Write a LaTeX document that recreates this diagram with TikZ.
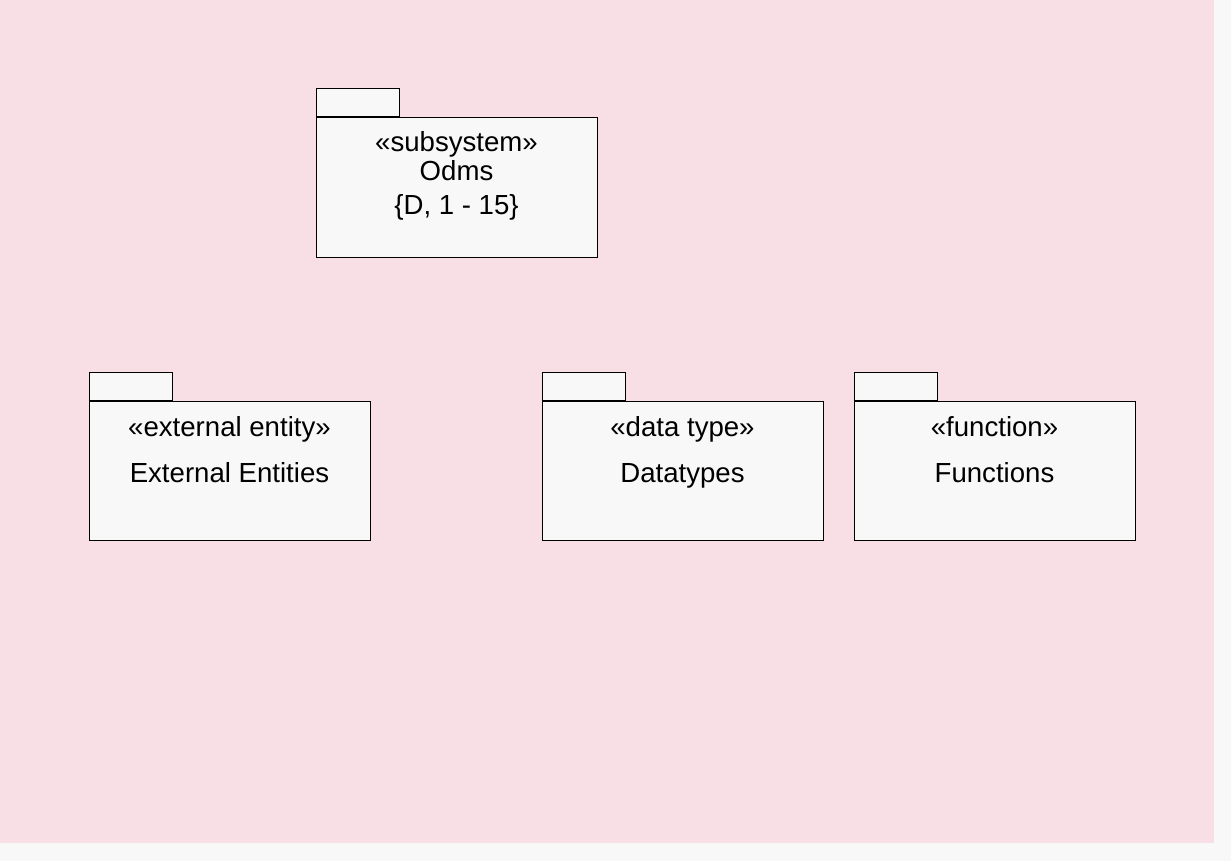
\documentclass[tikz,border=0pt]{standalone}
\usepackage{fontspec}
\setmainfont{Liberation Sans}
\usepackage{tikz}
\usetikzlibrary{positioning}
\definecolor{diagrambg}{HTML}{F7DFE5}
\definecolor{pagebg}{HTML}{F8F8F8}
\definecolor{pkgfill}{HTML}{F8F8F8}

\begin{document}
\begin{tikzpicture}[
            x=1pt, y=-1pt,
            font=\fontsize{27.6}{32}\selectfont,
            node distance=0pt,
            pkg/.style={rectangle, draw, fill=pkgfill, line width=1pt, minimum width=281pt, minimum height=139pt, inner sep=0pt},
            tab/.style={rectangle, draw, fill=pkgfill, line width=1pt, minimum width=83pt, minimum height=28pt, inner sep=0pt},
            pkgtext/.style={inner sep=0pt, text height=0.72em, text depth=0.2em}
        ]
        % canvas
        \fill[pagebg] (0,0) rectangle (1231,861);
        \fill[diagrambg] (0,0) rectangle (1214,843);

        % Odms subsystem
        \node[pkg, anchor=north west] (odms) at (315.5,117.5) {};
        \node[tab, anchor=south west] (odms_tab) at (odms.north west) {};
        \node[pkgtext] (odms_stereo) at ([yshift=-31pt]odms.north) {«subsystem»};
        \node[pkgtext] (odms_name) at ([yshift=-60pt]odms.north) {Odms};
        \node[pkgtext] (odms_tag) at ([yshift=-94pt]odms.north) {\{D, 1 - 15\}};

        % External entities
        \node[pkg, anchor=north west] (ext) at (88.5,400.5) {};
        \node[tab, anchor=south west] (ext_tab) at (ext.north west) {};
        \node[pkgtext] (ext_stereo) at ([yshift=-33pt]ext.north) {«external entity»};
        \node[pkgtext] (ext_name) at ([yshift=-79pt]ext.north) {External Entities};

        % Datatypes
        \node[pkg, right=171pt of ext] (types) {};
        \node[tab, anchor=south west] (types_tab) at (types.north west) {};
        \node[pkgtext] (types_stereo) at ([yshift=-33pt]types.north) {«data type»};
        \node[pkgtext] (types_name) at ([yshift=-79pt]types.north) {Datatypes};

        % Functions
        \node[pkg, right=30pt of types] (funcs) {};
        \node[tab, anchor=south west] (funcs_tab) at (funcs.north west) {};
        \node[pkgtext] (funcs_stereo) at ([yshift=-33pt]funcs.north) {«function»};
        \node[pkgtext] (funcs_name) at ([yshift=-79pt]funcs.north) {Functions};
    \end{tikzpicture}
\end{document}
